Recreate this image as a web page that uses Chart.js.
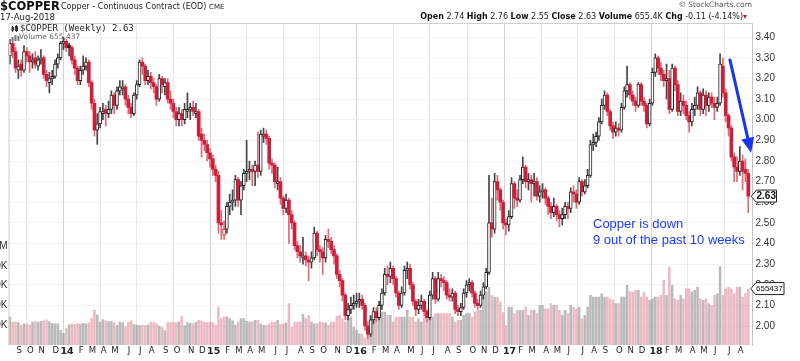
<!DOCTYPE html>
<html>
<head>
<meta charset="utf-8">
<script src="https://cdn.jsdelivr.net/npm/chart.js@4.4.0/dist/chart.umd.min.js"></script>
<style>
body{margin:0;width:800px;height:361px;overflow:hidden;background:#fff;position:relative;font-family:"DejaVu Sans",Verdana,sans-serif}
#wrap{position:absolute;left:0;top:0;width:800px;height:361px;overflow:hidden}
#c{position:absolute;left:-30px;top:0}
.t{position:absolute;white-space:nowrap;color:#222;line-height:1}
.t b{font-weight:bold;color:#111}
</style>
</head>
<body>
<div id="wrap"><canvas id="c" width="830" height="361"></canvas></div>

<div class="t" style="left:0;top:1px;font-size:11.5px;font-weight:bold;color:#111">$COPPER</div>
<div class="t" style="left:61px;top:3px;font-size:8px">Copper - Continuous Contract (EOD)</div>
<div class="t" style="left:209px;top:4px;font-size:7px">CME</div>
<div class="t" style="left:0;top:13px;font-size:8.5px">17-Aug-2018</div>
<div class="t" style="right:48px;top:1px;font-size:7.5px;color:#555">&copy; StockCharts.com</div>
<div class="t" style="right:57px;top:13px;font-size:8px"><b>Open</b> 2.74 <b>High</b> 2.76 <b>Low</b> 2.55 <b>Close</b> 2.63 <b>Volume</b> 655.4K <b>Chg</b> -0.11 (-4.14%)</div>
<div class="t" style="left:743px;top:13px;font-size:8px;color:#cc1133">&#9662;</div>

<div class="t" style="left:20px;top:24px;font-size:9px;font-family:'DejaVu Sans Mono',monospace;color:#222">$COPPER (Weekly) 2.63</div>
<div class="t" style="left:19px;top:33px;font-size:7.5px;color:#666">Volume 655,437</div>

<div class="t" style="left:593px;top:216px;font-size:13px;line-height:16px;font-family:'Liberation Sans',Arial,sans-serif;color:#1a3cff">Copper is down<br>9 out of the past 10 weeks</div>

<script>
// weekly bars, first week ending Fri 9-Aug-2013, last 17-Aug-2018 (one empty slot after)
const firstWeek = Date.UTC(2013, 7, 9);
const weekCount = 264;

const weekOpen = [
3.31,3.37,3.33,3.24,3.27,3.24,3.33,3.31,3.28,3.30,
3.26,3.29,3.30,3.22,3.18,3.20,3.21,3.27,3.30,3.37,
3.38,3.36,3.35,3.29,3.25,3.19,3.24,3.26,3.28,3.18,
3.08,2.95,2.98,3.03,3.05,3.03,3.05,3.12,3.07,3.14,
3.15,3.16,3.10,3.06,3.03,3.12,3.17,3.28,3.26,3.19,
3.21,3.18,3.16,3.10,3.20,3.16,3.18,3.10,3.08,3.04,
3.00,3.03,3.00,3.04,3.05,3.06,3.03,3.04,2.93,2.90,
2.88,2.84,2.81,2.76,2.73,2.50,2.44,2.47,2.58,2.60,
2.61,2.71,2.61,2.68,2.74,2.75,2.76,2.75,2.78,2.75,
2.92,2.93,2.91,2.79,2.78,2.69,2.70,2.62,2.57,2.61,
2.54,2.50,2.39,2.36,2.33,2.34,2.32,2.31,2.33,2.45,
2.37,2.36,2.33,2.42,2.41,2.37,2.34,2.25,2.22,2.15,
2.05,2.08,2.10,2.11,2.12,2.13,2.10,2.00,1.96,2.03,
2.07,2.04,2.10,2.16,2.25,2.24,2.28,2.23,2.16,2.10,
2.16,2.27,2.28,2.20,2.12,2.08,2.10,2.12,2.07,2.04,
2.15,2.23,2.13,2.23,2.22,2.21,2.15,2.14,2.16,2.08,
2.07,2.09,2.16,2.20,2.21,2.16,2.11,2.10,2.15,2.19,
2.26,2.50,2.47,2.70,2.66,2.60,2.50,2.49,2.53,2.69,
2.62,2.61,2.71,2.77,2.70,2.71,2.69,2.70,2.63,2.65,
2.66,2.62,2.58,2.55,2.58,2.54,2.52,2.54,2.58,2.57,
2.65,2.64,2.60,2.70,2.65,2.68,2.73,2.88,2.89,2.92,
2.99,3.07,3.12,3.04,2.97,2.94,2.96,2.95,3.06,3.14,
3.17,3.12,3.09,3.07,3.17,3.09,3.07,2.98,3.08,3.23,
3.30,3.25,3.22,3.19,3.20,3.05,3.25,3.17,3.04,3.09,
3.07,3.02,2.99,3.05,3.07,3.13,3.05,3.12,3.07,3.11,
3.08,3.06,3.08,3.26,3.13,3.02,2.96,2.82,2.77,2.75,
2.80,2.76,2.74];

const weekHigh = [
3.39,3.39,3.35,3.29,3.29,3.36,3.35,3.33,3.32,3.33,
3.31,3.34,3.31,3.24,3.23,3.24,3.29,3.32,3.38,3.40,
3.39,3.37,3.36,3.31,3.26,3.26,3.31,3.30,3.29,3.19,
3.10,3.03,3.06,3.08,3.07,3.09,3.14,3.13,3.16,3.19,
3.19,3.17,3.12,3.08,3.13,3.19,3.29,3.30,3.27,3.24,
3.23,3.20,3.17,3.22,3.21,3.20,3.20,3.14,3.10,3.06,
3.06,3.05,3.08,3.13,3.08,3.09,3.08,3.05,2.96,2.93,
2.90,2.86,2.83,2.78,2.75,2.56,2.51,2.60,2.64,2.66,
2.73,2.72,2.70,2.76,2.90,2.80,2.78,2.80,2.94,2.95,
2.96,2.95,2.92,2.81,2.79,2.77,2.72,2.63,2.64,2.62,
2.56,2.51,2.41,2.39,2.43,2.36,2.34,2.36,2.48,2.46,
2.39,2.38,2.44,2.47,2.43,2.39,2.35,2.27,2.23,2.16,
2.11,2.14,2.15,2.16,2.16,2.15,2.11,2.02,2.05,2.09,
2.09,2.12,2.18,2.28,2.29,2.31,2.29,2.24,2.17,2.19,
2.29,2.31,2.30,2.21,2.13,2.13,2.15,2.13,2.08,2.17,
2.26,2.24,2.26,2.25,2.24,2.22,2.18,2.18,2.17,2.10,
2.11,2.18,2.22,2.23,2.22,2.17,2.13,2.17,2.21,2.28,
2.73,2.62,2.74,2.73,2.67,2.61,2.52,2.56,2.72,2.70,
2.66,2.73,2.82,2.78,2.74,2.73,2.74,2.72,2.68,2.69,
2.67,2.63,2.60,2.62,2.59,2.56,2.57,2.60,2.60,2.67,
2.68,2.66,2.72,2.71,2.71,2.76,2.90,2.93,2.94,3.01,
3.10,3.14,3.13,3.05,2.99,2.99,2.98,3.08,3.16,3.26,
3.18,3.14,3.11,3.18,3.18,3.11,3.08,3.10,3.25,3.32,
3.31,3.28,3.24,3.27,3.24,3.27,3.26,3.19,3.13,3.12,
3.09,3.04,3.08,3.11,3.16,3.14,3.15,3.14,3.13,3.13,
3.11,3.11,3.32,3.30,3.15,3.03,2.97,2.84,2.82,2.87,
2.83,2.81,2.76];

const weekLow = [
3.27,3.30,3.23,3.20,3.21,3.23,3.28,3.23,3.25,3.25,
3.24,3.27,3.20,3.16,3.13,3.17,3.20,3.25,3.29,3.34,
3.33,3.31,3.27,3.22,3.17,3.17,3.22,3.24,3.16,3.05,
2.92,2.88,2.96,3.00,2.97,3.01,3.03,3.03,3.05,3.12,
3.12,3.07,3.03,3.01,3.02,3.10,3.16,3.22,3.17,3.17,
3.15,3.13,3.07,3.09,3.13,3.12,3.08,3.05,3.01,2.97,
2.97,2.97,2.98,3.01,3.00,3.02,3.01,2.90,2.82,2.85,
2.80,2.77,2.73,2.70,2.45,2.42,2.42,2.45,2.54,2.56,
2.58,2.58,2.54,2.66,2.70,2.71,2.68,2.68,2.72,2.73,
2.89,2.88,2.76,2.74,2.67,2.66,2.59,2.54,2.55,2.40,
2.47,2.37,2.33,2.31,2.30,2.29,2.22,2.28,2.32,2.34,
2.31,2.25,2.31,2.38,2.35,2.30,2.23,2.19,2.12,2.03,
2.03,2.06,2.08,2.09,2.09,2.08,1.98,1.94,1.95,2.01,
2.02,2.03,2.08,2.15,2.20,2.21,2.20,2.14,2.08,2.09,
2.15,2.23,2.18,2.10,2.05,2.06,2.08,2.05,2.02,2.03,
2.13,2.11,2.12,2.19,2.17,2.13,2.12,2.12,2.06,2.05,
2.05,2.08,2.14,2.17,2.14,2.09,2.08,2.09,2.13,2.18,
2.25,2.43,2.45,2.61,2.56,2.47,2.44,2.46,2.52,2.57,
2.58,2.60,2.69,2.67,2.66,2.60,2.63,2.61,2.60,2.62,
2.59,2.54,2.52,2.53,2.51,2.48,2.49,2.52,2.52,2.55,
2.60,2.57,2.59,2.63,2.64,2.67,2.72,2.85,2.87,2.90,
2.98,3.05,3.02,2.95,2.91,2.92,2.92,2.94,3.05,3.11,
3.10,3.07,3.04,3.06,3.07,3.04,2.96,2.97,3.07,3.21,
3.22,3.19,3.16,3.10,3.03,3.04,3.14,3.02,3.02,3.03,
3.00,2.94,2.97,3.02,3.05,3.02,3.03,3.02,3.04,3.06,
3.00,3.04,3.07,3.11,2.99,2.92,2.80,2.70,2.70,2.73,
2.66,2.70,2.55];

const weekClose = [
3.37,3.33,3.25,3.26,3.24,3.33,3.31,3.28,3.29,3.27,
3.29,3.30,3.22,3.19,3.20,3.21,3.27,3.30,3.37,3.38,
3.35,3.35,3.29,3.25,3.19,3.24,3.26,3.28,3.18,3.08,
2.95,2.98,3.04,3.04,3.03,3.05,3.12,3.07,3.14,3.16,
3.16,3.10,3.06,3.03,3.12,3.17,3.28,3.26,3.19,3.21,
3.18,3.16,3.10,3.20,3.17,3.18,3.10,3.08,3.04,3.00,
3.03,3.00,3.05,3.05,3.06,3.04,3.04,2.92,2.90,2.88,
2.84,2.81,2.76,2.73,2.50,2.49,2.47,2.58,2.60,2.61,
2.71,2.61,2.68,2.74,2.75,2.76,2.75,2.78,2.75,2.93,
2.93,2.91,2.79,2.78,2.70,2.70,2.62,2.57,2.61,2.54,
2.50,2.39,2.36,2.34,2.34,2.32,2.31,2.33,2.45,2.37,
2.36,2.33,2.42,2.41,2.37,2.34,2.25,2.22,2.15,2.05,
2.08,2.10,2.11,2.12,2.13,2.10,2.00,1.96,2.03,2.07,
2.04,2.10,2.16,2.25,2.24,2.28,2.23,2.16,2.10,2.16,
2.27,2.28,2.20,2.12,2.08,2.10,2.12,2.07,2.04,2.15,
2.23,2.13,2.23,2.22,2.21,2.15,2.14,2.16,2.08,2.07,
2.09,2.16,2.20,2.21,2.16,2.11,2.10,2.15,2.19,2.26,
2.50,2.47,2.70,2.66,2.60,2.50,2.49,2.53,2.69,2.62,
2.61,2.71,2.77,2.70,2.71,2.69,2.70,2.63,2.65,2.66,
2.62,2.58,2.55,2.58,2.54,2.52,2.54,2.58,2.57,2.65,
2.64,2.60,2.70,2.65,2.68,2.73,2.88,2.89,2.92,2.99,
3.07,3.12,3.04,2.97,2.94,2.96,2.95,3.06,3.14,3.17,
3.12,3.09,3.07,3.17,3.09,3.07,2.98,3.08,3.23,3.30,
3.25,3.22,3.19,3.20,3.05,3.25,3.17,3.04,3.09,3.07,
3.02,2.99,3.05,3.07,3.13,3.05,3.12,3.07,3.11,3.08,
3.06,3.08,3.27,3.13,3.02,2.96,2.82,2.77,2.75,2.80,
2.75,2.74,2.63];

// volume in thousands
const weekVolume = [
330,270,270,265,230,250,250,235,270,275,
270,280,285,295,275,255,250,250,175,140,
195,240,250,245,255,245,255,250,260,310,
410,350,270,300,285,275,275,265,230,270,
265,215,270,285,240,235,230,235,230,235,
270,265,250,225,210,170,265,265,270,265,
270,340,230,265,255,250,270,290,285,270,
265,270,265,235,445,310,330,330,310,285,
235,270,310,310,280,270,275,290,290,250,
232,232,250,271,271,290,245,250,260,484,
213,271,271,271,360,310,348,271,251,251,
271,265,260,232,271,271,340,348,309,271,
329,329,213,174,135,130,80,213,348,368,
368,368,387,387,348,348,271,329,329,329,
329,406,329,329,271,309,271,329,329,368,
329,370,370,368,368,368,368,329,271,290,
290,348,368,368,329,387,406,406,561,620,
677,580,561,561,503,380,230,445,445,368,
406,406,406,445,348,406,406,368,464,464,
425,425,484,464,464,406,348,406,368,464,
445,425,445,309,348,445,580,561,561,561,
599,561,561,541,522,484,484,561,561,696,
620,619,638,638,561,619,561,522,541,561,
561,580,754,580,909,696,541,522,580,541,
657,657,619,638,677,541,522,541,484,464,
580,599,916,580,657,677,657,599,677,677,
561,600,655.437];

const priceTicks = [2.00,2.10,2.20,2.30,2.40,2.50,2.60,2.70,2.80,2.90,3.00,3.10,3.20,3.30,3.40];
const volumeTicks = [230,460,690,920,1150];
const monthLetters = ['J','F','M','A','M','J','J','A','S','O','N','D'];
const arrowFrom = [255.5, 3.29];
const arrowTo = [263.0, 2.84];

const weeks = [], weekMonth = [], weekYear = [];
for (let i = 0; i < weekCount; i++) {
  const d = new Date(firstWeek + i * 7 * 86400000);
  weeks.push(d.toISOString().slice(0, 10));
  weekMonth.push(d.getUTCMonth());
  weekYear.push(d.getUTCFullYear());
}
const monthStarts = [];
for (let i = 1; i < weekCount; i++) if (weekMonth[i] !== weekMonth[i - 1]) monthStarts.push(i);

const RED = '#cc1f3a', RED_WICK = '#e06877', BLACK = '#222', BLACK_WICK = '#444';
const bodies = [], wicks = [], bodyFill = [], bodyLine = [], bodyBorder = [], wickColor = [], volColor = [], vols = [];
for (let i = 0; i < weekCount; i++) {
  if (i >= weekClose.length) { bodies.push(null); wicks.push(null); vols.push(null);
    bodyFill.push('#fff'); bodyLine.push(BLACK); bodyBorder.push(0); wickColor.push(BLACK); volColor.push('#bbb'); continue; }
  const o = weekOpen[i], c = weekClose[i];
  const prev = i > 0 ? weekClose[i - 1] : o;
  const down = c < prev;
  const col = down ? RED : BLACK;
  bodies.push(o === c ? [o - 0.002, c + 0.002] : [o, c]);
  wicks.push([weekLow[i], weekHigh[i]]);
  if (c < o) { bodyFill.push(col); bodyBorder.push(0); }
  else { bodyFill.push('#fff'); bodyBorder.push(1); }
  bodyLine.push(col);
  wickColor.push(down ? RED_WICK : BLACK_WICK);
  volColor.push(down ? 'rgba(222,130,145,0.55)' : 'rgba(140,140,140,0.6)');
  vols.push(weekVolume[i]);
}

function tag(ctx, xl, yc, text, w, font) {
  ctx.beginPath();
  ctx.moveTo(xl, yc); ctx.lineTo(xl + 5, yc - 6); ctx.lineTo(xl + w, yc - 6);
  ctx.lineTo(xl + w, yc + 6); ctx.lineTo(xl + 5, yc + 6); ctx.closePath();
  ctx.fillStyle = '#fff'; ctx.fill();
  ctx.strokeStyle = '#222'; ctx.lineWidth = 1; ctx.stroke();
  ctx.fillStyle = '#111'; ctx.font = font; ctx.textBaseline = 'middle'; ctx.textAlign = 'left';
  ctx.fillText(text, xl + 5, yc + 0.5);
}

const overlay = {
  id: 'overlay',
  afterDraw(ch) {
    const { ctx, chartArea: a } = ch;
    const x = ch.scales.x, y = ch.scales.y, yv = ch.scales.yv;
    ctx.save();
    // frame
    ctx.strokeStyle = '#cfcfcf'; ctx.lineWidth = 1;
    ctx.beginPath(); ctx.moveTo(a.left + 0.5, a.bottom); ctx.lineTo(a.left + 0.5, a.top + 0.5); ctx.lineTo(a.right, a.top + 0.5); ctx.stroke();

    // arrow
    const x1 = x.getPixelForValue(arrowFrom[0]), y1 = y.getPixelForValue(arrowFrom[1]);
    const x2 = x.getPixelForValue(arrowTo[0]), y2 = y.getPixelForValue(arrowTo[1]);
    const ang = Math.atan2(y2 - y1, x2 - x1), hl = 15, hw = 6.5;
    const bx = x2 - hl * Math.cos(ang), by = y2 - hl * Math.sin(ang);
    ctx.strokeStyle = '#1a35e6'; ctx.fillStyle = '#1a35e6'; ctx.lineWidth = 3; ctx.lineCap = 'round';
    ctx.beginPath(); ctx.moveTo(x1, y1); ctx.lineTo(bx, by); ctx.stroke();
    ctx.beginPath(); ctx.moveTo(x2, y2);
    ctx.lineTo(bx + hw * Math.sin(ang), by - hw * Math.cos(ang));
    ctx.lineTo(bx - hw * Math.sin(ang), by + hw * Math.cos(ang));
    ctx.closePath(); ctx.fill();

    // last value tags
    const last = weekClose.length - 1;
    tag(ctx, a.right - 1, y.getPixelForValue(weekClose[last]), weekClose[last].toFixed(2), 25, 'bold 10px "Liberation Sans", Arial');
    tag(ctx, a.right - 1.5, yv.getPixelForValue(weekVolume[last]), String(Math.round(weekVolume[last] * 1000)), 33, '8px "Liberation Sans", Arial');

    // legend icons
    ctx.lineWidth = 1; ctx.lineCap = 'butt';
    ctx.strokeStyle = '#333'; ctx.fillStyle = '#333';
    ctx.beginPath(); ctx.moveTo(a.left + 4, a.top + 3); ctx.lineTo(a.left + 4, a.top + 9); ctx.stroke();
    ctx.fillRect(a.left + 3, a.top + 4, 2.5, 3.5);
    ctx.beginPath(); ctx.moveTo(a.left + 8, a.top + 2); ctx.lineTo(a.left + 8, a.top + 9); ctx.stroke();
    ctx.strokeRect(a.left + 7, a.top + 3.5, 2, 4);
    ctx.fillStyle = '#777';
    ctx.fillRect(a.left + 3, a.top + 14, 2, 4);
    ctx.fillRect(a.left + 6, a.top + 12, 2, 6);
    ctx.fillRect(a.left + 9, a.top + 13, 2, 5);
    ctx.restore();
  }
};

new Chart(document.getElementById('c'), {
  type: 'bar',
  data: {
    labels: weeks,
    datasets: [
      { label: 'body', data: bodies, yAxisID: 'y', grouped: false, order: 0, barThickness: 3,
        backgroundColor: bodyFill, borderColor: bodyLine, borderWidth: bodyBorder, borderSkipped: false },
      { label: 'wick', data: wicks, yAxisID: 'y', grouped: false, order: 1, barThickness: 1,
        backgroundColor: wickColor, borderWidth: 0 },
      { label: 'volume', data: vols, yAxisID: 'yv', grouped: false, order: 2,
        barPercentage: 0.9, categoryPercentage: 1, backgroundColor: volColor, borderWidth: 0 }
    ]
  },
  options: {
    responsive: false, animation: false, devicePixelRatio: 1,
    layout: { padding: { top: 23, left: 0, right: 0, bottom: 0 } },
    plugins: { legend: { display: false }, tooltip: { enabled: false } },
    scales: {
      x: {
        type: 'category', offset: true,
        afterBuildTicks: s => { s.ticks = monthStarts.map(i => ({ value: i })); },
        afterFit: s => { s.height = 16; },
        grid: { offset: true, drawTicks: false, lineWidth: 1,
          color: c => {
            if (!c.tick) return 'rgba(0,0,0,0)';
            const m = weekMonth[c.tick.value];
            if (m === 0) return '#d2d2d2';
            return m % 3 === 0 ? '#e9e9e9' : 'rgba(0,0,0,0)';
          } },
        border: { display: false },
        ticks: { autoSkip: false, maxRotation: 0, padding: 1, labelOffset: -2, color: '#222',
          font: c => (c.tick && weekMonth[c.tick.value] === 0)
            ? { family: 'DejaVu Sans', size: 9.5, weight: 'bold' }
            : { family: 'DejaVu Sans', size: 8.5 },
          callback: v => weekMonth[v] === 0 ? String(weekYear[v]).slice(2) : monthLetters[weekMonth[v]] }
      },
      y: {
        position: 'right', min: 1.908, max: 3.469,
        afterBuildTicks: s => { s.ticks = priceTicks.map(v => ({ value: v })); },
        afterFit: s => { s.width = 47.5; },
        grid: { color: '#e9e9e9', drawTicks: false },
        border: { display: true, color: '#c4c4c4', dash: [2, 2] },
        ticks: { padding: 3, color: '#333', font: { family: 'Liberation Sans', size: 10 },
          callback: v => v.toFixed(2) }
      },
      yv: {
        position: 'left', min: 0, max: 3740,
        afterBuildTicks: s => { s.ticks = volumeTicks.map(v => ({ value: v })); },
        afterFit: s => { s.width = 38.5; },
        grid: { display: false, drawTicks: false },
        border: { display: false },
        ticks: { padding: 1, color: '#333', font: { family: 'Liberation Sans', size: 10 },
          callback: v => v >= 1000 ? (v / 1000).toFixed(2) + 'M' : v + 'K' }
      }
    }
  },
  plugins: [overlay]
});
</script>
</body>
</html>
